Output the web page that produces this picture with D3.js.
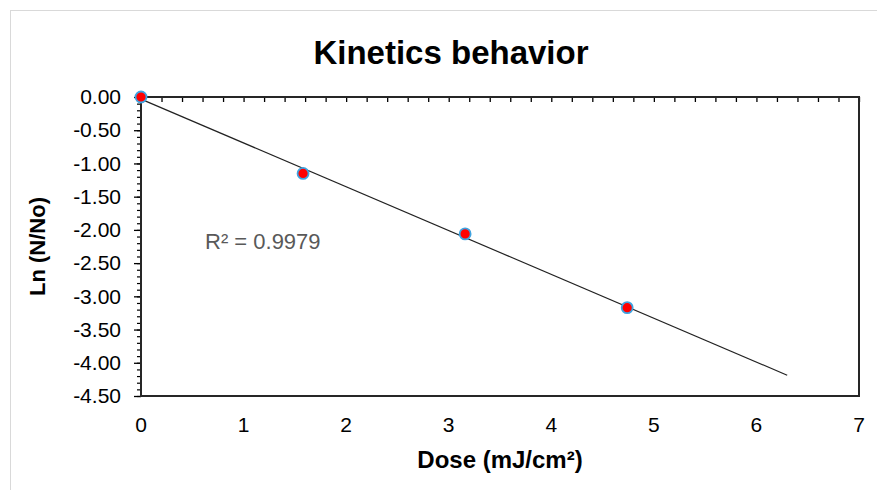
<!DOCTYPE html>
<html>
<head>
<meta charset="utf-8">
<script src="https://cdn.jsdelivr.net/npm/d3@7"></script>
<style>
  body { margin: 0; background: #fff; }
  text { font-family: "Liberation Sans", Arial, sans-serif; }
</style>
</head>
<body>
<div id="chart"></div>
<script>
var dose = [0, 1.58, 3.16, 4.74];
var lnRatio = [0, -1.15, -2.06, -3.17];
var xTicks = [0, 1, 2, 3, 4, 5, 6, 7];
var yTicks = [0, -0.5, -1, -1.5, -2, -2.5, -3, -3.5, -4, -4.5];
var r2Label = "R² = 0.9979";

var width = 877, height = 490;
var margin = { top: 97, right: 18, bottom: 94, left: 141 };

var svg = d3.select("#chart").append("svg")
    .attr("width", width)
    .attr("height", height);

// outer chart border
svg.append("rect")
    .attr("x", 10.5).attr("y", 10.5)
    .attr("width", width).attr("height", height)
    .attr("fill", "none")
    .attr("stroke", "#d9d9d9");

var x = d3.scaleLinear().domain([0, 7]).range([margin.left, width - margin.right]);
var y = d3.scaleLinear().domain([-4.5, 0]).range([height - margin.bottom, margin.top]);

var fmt = function(d) { return d3.format(".2f")(d).replace("−", "-"); };

// minor ticks on x (top axis, pointing in)
var xMinor = d3.range(0, 7.001, 0.2);
svg.append("g")
    .attr("transform", "translate(0," + y(0) + ")")
    .call(d3.axisBottom(x).tickValues(xMinor).tickSize(5).tickFormat(""))
    .call(function(g) {
      g.select(".domain").remove();
      g.selectAll("line").attr("stroke", "#000").attr("stroke-width", 1.3);
    });

// minor ticks on y
var yMinor = d3.range(-4.5, 0.001, 0.1);
svg.append("g")
    .attr("transform", "translate(" + x(0) + ",0)")
    .call(d3.axisLeft(y).tickValues(yMinor).tickSize(4).tickFormat(""))
    .call(function(g) {
      g.select(".domain").remove();
      g.selectAll("line").attr("stroke", "#000").attr("stroke-width", 1.2);
    });

// major ticks + labels on y
svg.append("g")
    .attr("transform", "translate(" + x(0) + ",0)")
    .call(d3.axisLeft(y).tickValues(yTicks).tickSize(7).tickPadding(13).tickFormat(fmt))
    .call(function(g) {
      g.attr("font-size", null).attr("font-family", null);
      g.select(".domain").remove();
      g.selectAll("line").attr("stroke", "#000").attr("stroke-width", 1.3);
      g.selectAll("text").style("font-size", "21px").attr("fill", "#000");
    });

// x tick labels at the bottom
svg.append("g")
    .selectAll("text")
    .data(xTicks)
    .enter().append("text")
    .attr("x", function(d) { return x(d); })
    .attr("y", y(-4.5) + 36)
    .attr("text-anchor", "middle")
    .style("font-size", "21px")
    .text(function(d) { return d; });

// plot area frame
svg.append("rect")
    .attr("x", x(0)).attr("y", y(0))
    .attr("width", x(7) - x(0)).attr("height", y(-4.5) - y(0))
    .attr("fill", "none")
    .attr("stroke", "#262626")
    .attr("stroke-width", 2);

// linear trendline (least squares), forecast forward to 6.3
var mx = d3.mean(dose), my = d3.mean(lnRatio);
var sxy = d3.sum(dose, function(d, i) { return (d - mx) * (lnRatio[i] - my); });
var sxx = d3.sum(dose, function(d) { return (d - mx) * (d - mx); });
var slope = sxy / sxx, intercept = my - slope * mx;

svg.append("line")
    .attr("x1", x(0)).attr("y1", y(intercept))
    .attr("x2", x(6.3)).attr("y2", y(intercept + slope * 6.3))
    .attr("stroke", "#222")
    .attr("stroke-width", 1.2);

// points
svg.selectAll(".pt")
    .data(dose)
    .enter().append("circle")
    .attr("class", "pt")
    .attr("cx", function(d) { return x(d); })
    .attr("cy", function(d, i) { return y(lnRatio[i]); })
    .attr("r", 5.5)
    .attr("fill", "#ff0000")
    .attr("stroke", "#3fa3e0")
    .attr("stroke-width", 1.8);

// R² label
svg.append("text")
    .attr("x", 205).attr("y", 249)
    .style("font-size", "22px")
    .attr("fill", "#595959")
    .text(r2Label);

// title
svg.append("text")
    .attr("x", 451).attr("y", 64)
    .attr("text-anchor", "middle")
    .style("font-size", "33px")
    .attr("font-weight", "bold")
    .text("Kinetics behavior");

// axis titles
svg.append("text")
    .attr("x", 500).attr("y", 468)
    .attr("text-anchor", "middle")
    .style("font-size", "24px")
    .attr("font-weight", "bold")
    .text("Dose (mJ/cm²)");

svg.append("text")
    .attr("transform", "translate(45," + ((y(0) + y(-4.5)) / 2) + ") rotate(-90)")
    .attr("text-anchor", "middle")
    .style("font-size", "22px")
    .attr("font-weight", "bold")
    .text("Ln (N/No)");
</script>
</body>
</html>
